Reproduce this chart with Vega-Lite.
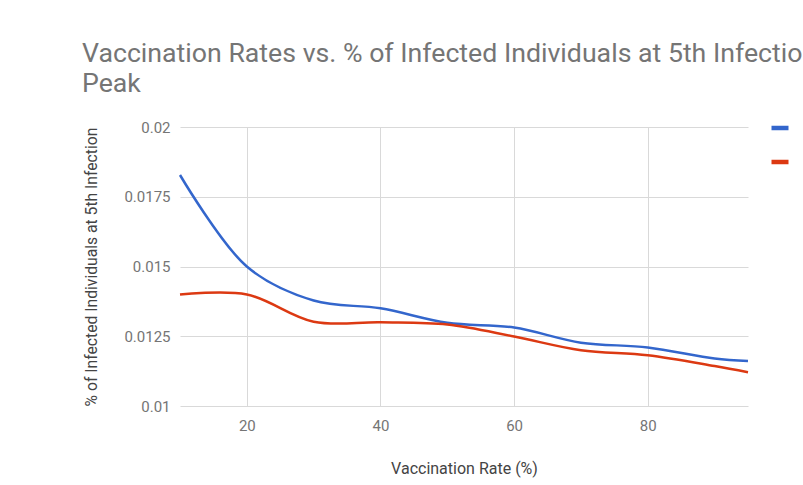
{
  "$schema": "https://vega.github.io/schema/vega-lite/v6.json",
  "autosize": {"type": "none"},
  "width": 568,
  "height": 279,
  "padding": {"left": 180, "top": 127, "right": 55, "bottom": 79},
  "background": "white",
  "title": {
    "text": ["Vaccination Rates vs. % of Infected Individuals at 5th Infection", "Peak"],
    "anchor": "start",
    "frame": "group",
    "dx": -98,
    "font": "Roboto",
    "fontSize": 26.7,
    "fontWeight": "normal",
    "color": "#757575",
    "lineHeight": 30,
    "offset": 19
  },
  "data": {
    "values": [
      {"rate": 10, "series": "Trial 1", "pct": 0.01828},
      {"rate": 20, "series": "Trial 1", "pct": 0.01500},
      {"rate": 30, "series": "Trial 1", "pct": 0.01378},
      {"rate": 40, "series": "Trial 1", "pct": 0.01350},
      {"rate": 50, "series": "Trial 1", "pct": 0.01298},
      {"rate": 60, "series": "Trial 1", "pct": 0.01281},
      {"rate": 70, "series": "Trial 1", "pct": 0.01227},
      {"rate": 80, "series": "Trial 1", "pct": 0.01210},
      {"rate": 90, "series": "Trial 1", "pct": 0.01170},
      {"rate": 95, "series": "Trial 1", "pct": 0.01161},
      {"rate": 10, "series": "Trial 2", "pct": 0.01400},
      {"rate": 20, "series": "Trial 2", "pct": 0.01400},
      {"rate": 30, "series": "Trial 2", "pct": 0.01302},
      {"rate": 40, "series": "Trial 2", "pct": 0.01300},
      {"rate": 50, "series": "Trial 2", "pct": 0.01292},
      {"rate": 60, "series": "Trial 2", "pct": 0.01249},
      {"rate": 70, "series": "Trial 2", "pct": 0.01200},
      {"rate": 80, "series": "Trial 2", "pct": 0.01182},
      {"rate": 90, "series": "Trial 2", "pct": 0.01143},
      {"rate": 95, "series": "Trial 2", "pct": 0.01121}
    ]
  },
  "mark": {"type": "line", "interpolate": "catmull-rom", "strokeWidth": 2.5},
  "encoding": {
    "x": {
      "field": "rate",
      "type": "quantitative",
      "scale": {"domain": [10, 95], "nice": false, "zero": false},
      "axis": {
        "title": "Vaccination Rate (%)",
        "values": [20, 40, 60, 80],
        "domain": false,
        "ticks": false,
        "labelPadding": 12,
        "titlePadding": 27,
        "titleFontSize": 16
      }
    },
    "y": {
      "field": "pct",
      "type": "quantitative",
      "scale": {"domain": [0.01, 0.02], "nice": false, "zero": false},
      "axis": {
        "title": "% of Infected Individuals at 5th Infection",
        "values": [0.01, 0.0125, 0.015, 0.0175, 0.02],
        "format": ".3~g",
        "domain": false,
        "ticks": false,
        "labelPadding": 10,
        "titlePadding": 24,
        "titleFontSize": 15.7
      }
    },
    "color": {
      "field": "series",
      "type": "nominal",
      "scale": {"range": ["#3366cc", "#dc3912"]},
      "legend": {
        "title": null,
        "orient": "none",
        "legendX": 589,
        "legendY": -10,
        "symbolType": "stroke",
        "symbolSize": 289,
        "symbolStrokeWidth": 4.5,
        "rowPadding": 14,
        "labelOffset": 40,
        "labelFontSize": 14,
        "labelFont": "Roboto",
        "labelColor": "#222222"
      }
    }
  },
  "config": {
    "view": {"stroke": null},
    "axis": {
      "labelFont": "Roboto",
      "labelFontSize": 15,
      "labelColor": "#757575",
      "titleFont": "Roboto",
      "titleFontWeight": "normal",
      "titleColor": "#444444",
      "gridColor": "#d9d9d9",
      "gridOpacity": 1
    }
  }
}
